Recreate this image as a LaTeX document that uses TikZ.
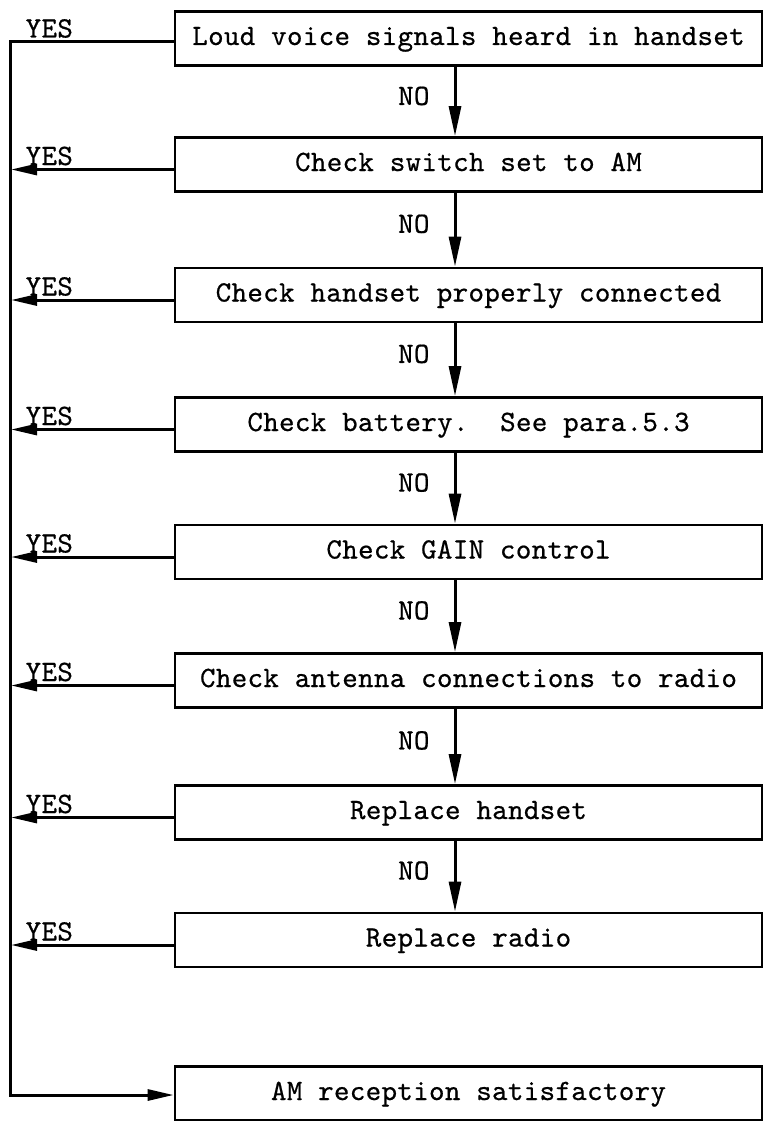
\documentclass[tikz,border=0pt]{standalone}
\usepackage{fontspec}
\setmonofont{lmmono10-regular.otf}[LetterSpace=1.2,FakeBold=0.6]
\usetikzlibrary{arrows.meta}
\begin{document}
\begin{tikzpicture}[x=1pt,y=-1pt,
  font=\ttfamily\fontsize{29.5}{34}\selectfont,
  box/.style={draw, line width=2.8pt, minimum width=587pt, minimum height=54pt,
    inner sep=0pt, text height=18pt, text depth=5pt},
  ln/.style={line width=3pt, line join=miter},
  harr/.style={ln, -{Triangle[length=26pt,width=11pt]}, shorten >=1pt},
  varr/.style={ln, -{Triangle[length=30pt,width=12pt]}},
  lbl/.style={inner sep=0pt, text height=18pt, text depth=0pt}]
\useasboundingbox (0,0) rectangle (767,1121);

\node[box] (b1) at (468.5,38.5) {Loud voice signals heard in handset};
\node[box] (b2) at (468.5,164.5) {Check switch set to AM};
\node[box] (b3) at (468.5,295) {Check handset properly connected};
\node[box] (b4) at (468.5,424.5) {Check battery.\ \ See para.5.3};
\node[box] (b5) at (468.5,552) {Check GAIN control};
\node[box] (b6) at (468.5,680.5) {Check antenna connections to radio};
\node[box] (b7) at (468.5,812.5) {Replace handset};
\node[box] (b8) at (468.5,940) {Replace radio};
\node[box] (b9) at (468.5,1093.5) {AM reception satisfactory};

\coordinate (L) at (10,0);
\coordinate (A) at (455,0);

% main left return line
\draw[ln, -{Triangle[length=26pt,width=11pt]}]
  ([yshift=-3.5pt]b1.west) -- ([yshift=-3.5pt]b1.west -| L)
  node[pos=0.76, above=3pt, lbl] {YES}
  -- ([yshift=-1.5pt]b9.west -| L) -- ([yshift=-1.5pt]b9.west);

% YES branches
\foreach \b in {b2,b3,b4,b5,b6,b7,b8}{
  \draw[harr] ([yshift=-5pt]\b.west) -- ([yshift=-5pt]\b.west -| L)
    node[pos=0.76, above=3pt, lbl] {YES};
}

% NO arrows
\foreach \a/\b in {b1/b2,b2/b3,b3/b4,b4/b5,b5/b6,b6/b7,b7/b8}{
  \draw[varr] (\a.south -| A) -- (\b.north -| A)
    node[pos=0.42, left=24pt, lbl] {NO};
}
\end{tikzpicture}
\end{document}
